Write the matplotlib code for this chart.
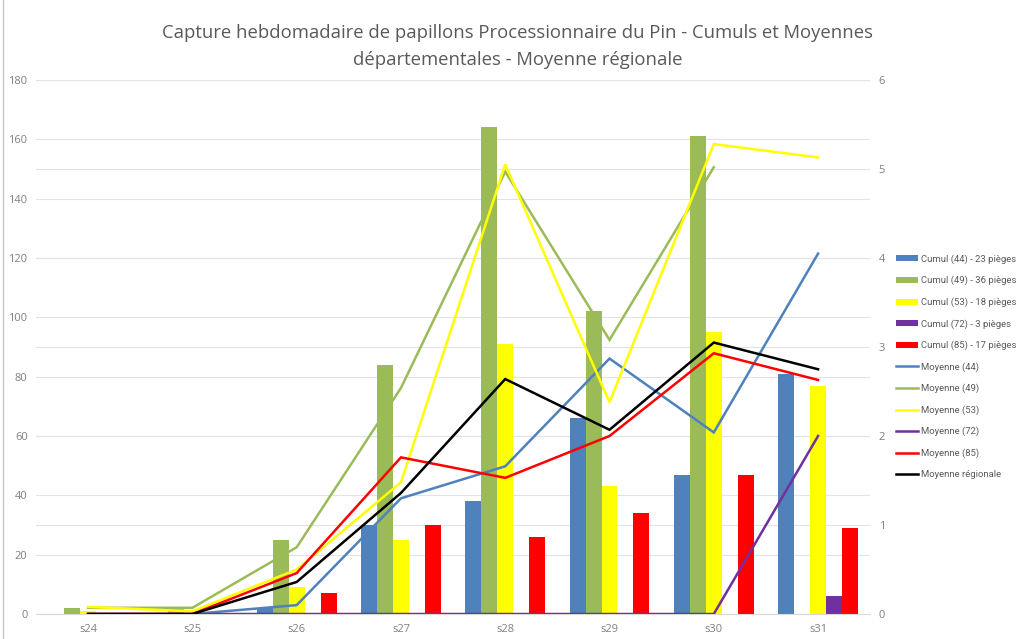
import numpy as np
import matplotlib.pyplot as plt
from matplotlib.lines import Line2D
from matplotlib.patches import Patch

weeks = ["s24", "s25", "s26", "s27", "s28", "s29", "s30", "s31"]

# cumulative catches (left axis)
cumul_44 = [0, 0, 2, 30, 38, 66, 47, 81]
cumul_49 = [2, 2, 25, 84, 164, 102, 161, 0]
cumul_53 = [1, 0, 9, 25, 91, 43, 95, 77]
cumul_72 = [0, 0, 0, 0, 0, 0, 0, 6]
cumul_85 = [0, 0, 7, 30, 26, 34, 47, 29]

# averages per trap (right axis)
moy_44 = [0, 0, 0.1, 1.3, 1.66, 2.87, 2.04, 4.05]
moy_49 = [0.07, 0.07, 0.75, 2.54, 4.97, 3.08, 5.02, np.nan]
moy_53 = [0.08, 0.03, 0.5, 1.48, 5.05, 2.38, 5.28, 5.13]
moy_72 = [0, 0, 0, 0, 0, 0, 0, 2.0]
moy_85 = [0, 0, 0.46, 1.76, 1.53, 2.0, 2.93, 2.63]
moy_reg = [0, 0, 0.36, 1.36, 2.64, 2.07, 3.05, 2.75]

cumul_labels = ["Cumul (44) - 23 pièges", "Cumul (49) - 36 pièges",
                "Cumul (53) - 18 pièges", "Cumul (72) - 3 pièges",
                "Cumul (85) - 17 pièges"]
moy_labels = ["Moyenne (44)", "Moyenne (49)", "Moyenne (53)",
              "Moyenne (72)", "Moyenne (85)", "Moyenne régionale"]
colors = ["#4f81bd", "#9bbb59", "#ffff00", "#7030a0", "#ff0000"]
txt = "#595959"

plt.rcParams['font.family'] = ['Open Sans', 'DejaVu Sans']

fig = plt.figure(figsize=(10.19, 6.39), dpi=100)
ax = fig.add_axes([0.0353, 0.0391, 0.8187, 0.8357])
ax2 = ax.twinx()

x = np.arange(len(weeks))
w = 0.153
cumuls = [cumul_44, cumul_49, cumul_53, cumul_72, cumul_85]
for i, (vals, c) in enumerate(zip(cumuls, colors)):
    ax.bar(x + (i - 2) * w, vals, width=w, color=c, zorder=2)

# grid lines for both axes
for v in range(0, 181, 20):
    ax.axhline(v, color="#e3e3e3", lw=0.8, zorder=0)
for v in range(0, 181, 30):
    ax.axhline(v, color="#e3e3e3", lw=0.8, zorder=0)

moys = [moy_44, moy_49, moy_53, moy_72, moy_85, moy_reg]
for vals, c in zip(moys, colors + ["black"]):
    ax2.plot(x, vals, color=c, lw=1.8, solid_joinstyle="miter")

ax.set_xlim(-0.5, len(weeks) - 0.5)
ax.set_ylim(0, 180)
ax.set_yticks(range(0, 181, 20))
ax2.set_ylim(0, 6)
ax2.set_yticks(range(0, 7))
ax.set_xticks(x)
ax.set_xticklabels(weeks)

for a in (ax, ax2):
    for s in a.spines.values():
        s.set_visible(False)
    a.tick_params(length=0, labelsize=8, colors="#808080")
ax.tick_params(axis="y", pad=6)
ax2.tick_params(axis="y", pad=6)
ax.tick_params(axis="x", pad=7)
ax.spines["bottom"].set_visible(True)
ax.spines["bottom"].set_color("#d9d9d9")

fig.suptitle("Capture hebdomadaire de papillons Processionnaire du Pin - Cumuls et Moyennes\n"
             "départementales - Moyenne régionale",
             x=0.508, y=0.962, fontsize=13.3, color=txt, linespacing=1.65)

handles = [Patch(facecolor=c, edgecolor="none") for c in colors]
handles += [Line2D([], [], color=c, lw=1.8) for c in colors + ["black"]]
leg = fig.legend(handles, cumul_labels + moy_labels, loc="upper left",
                 bbox_to_anchor=(0.876, 0.608), frameon=False,
                 prop={"family": "Roboto", "size": 6.8},
                 labelspacing=1.27, handlelength=2.3, handleheight=0.6,
                 handletextpad=0.25, borderaxespad=0)
for t in leg.get_texts():
    t.set_color(txt)

fig.add_artist(Line2D([0.003, 0.003], [0, 1], color="#c8c8c8", lw=1,
                      transform=fig.transFigure))

fig.savefig("out.png", dpi=100)
